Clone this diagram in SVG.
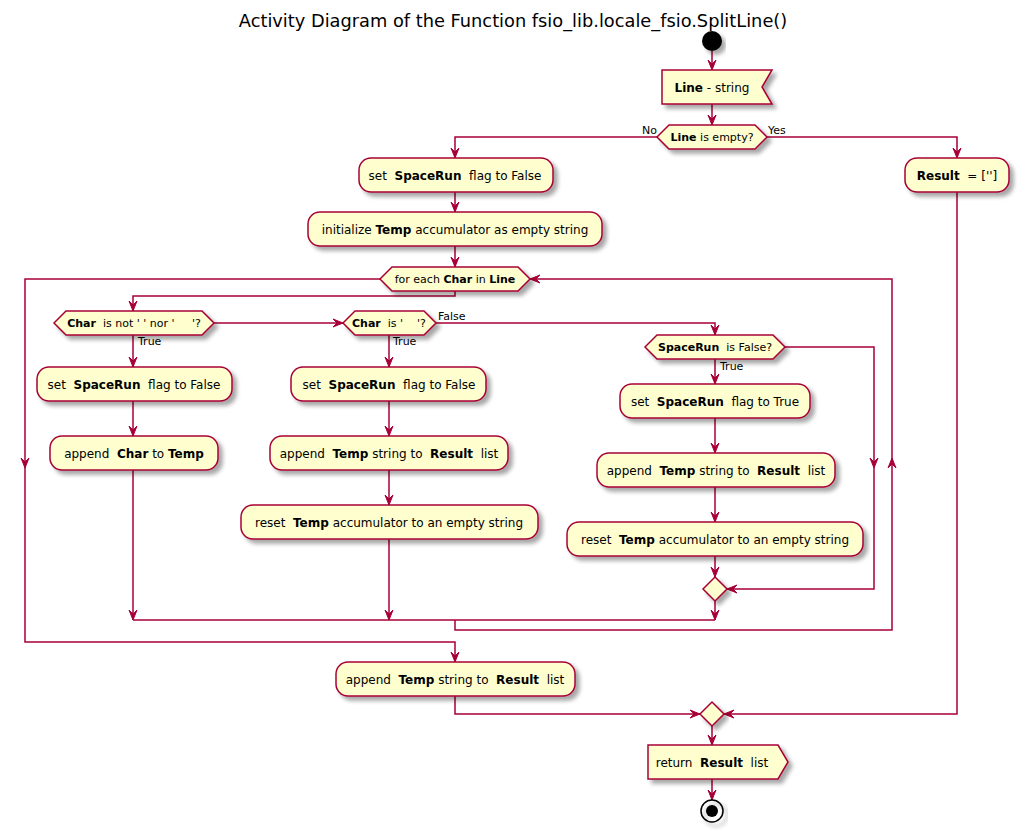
<svg xmlns="http://www.w3.org/2000/svg" xmlns:xlink="http://www.w3.org/1999/xlink" width="1018" height="830" viewBox="0 0 1018 830">
<defs>
<filter id="sh" x="-10%" y="-20%" width="130%" height="160%">
<feGaussianBlur in="SourceAlpha" stdDeviation="2"/>
<feOffset dx="4" dy="4" result="b"/>
<feComponentTransfer><feFuncA type="linear" slope="0.35"/></feComponentTransfer>
<feMerge><feMergeNode/><feMergeNode in="SourceGraphic"/></feMerge>
</filter>
<path id="ah" d="M0,0 L-4,-10 L0,-6 L4,-10 Z" fill="#A80036" stroke="#A80036" stroke-width="1"/>
</defs>
<style>
.n{fill:#FEFECE;stroke:#A80036;stroke-width:1.5;filter:url(#sh)}
.c{fill:none;stroke:#A80036;stroke-width:1.5}
text{font-family:"DejaVu Sans","Noto Sans",sans-serif;fill:#000}
.t{font-size:12px;text-anchor:middle}
.d{font-size:11px;text-anchor:middle}
.l{font-size:11px}
.b{font-weight:bold}
</style>
<rect width="1018" height="830" fill="#FFFFFF"/>
<text x="513" y="27" style="font-size:17.8px;text-anchor:middle">Activity Diagram of the Function fsio_lib.locale_fsio.SplitLine()</text>

<g id="connectors">
<path class="c" d="M712,51 V70"/><use xlink:href="#ah" transform="translate(712,70)"/>
<path class="c" d="M712,104 V125"/><use xlink:href="#ah" transform="translate(712,125)"/>
<path class="c" d="M657,137 H455 V158"/><use xlink:href="#ah" transform="translate(455,158)"/>
<path class="c" d="M767,137 H957 V158"/><use xlink:href="#ah" transform="translate(957,158)"/>
<path class="c" d="M455,192 V212"/><use xlink:href="#ah" transform="translate(455,212)"/>
<path class="c" d="M455,246 V267"/><use xlink:href="#ah" transform="translate(455,267)"/>
<path class="c" d="M455,291 V296 H133 V311"/><use xlink:href="#ah" transform="translate(133,311)"/>
<path class="c" d="M214,323 H343"/><use xlink:href="#ah" transform="translate(343,323) rotate(-90)"/>
<path class="c" d="M133,335 V367"/><use xlink:href="#ah" transform="translate(133,367)"/>
<path class="c" d="M133,401 V436"/><use xlink:href="#ah" transform="translate(133,436)"/>
<path class="c" d="M133,470 V620"/><use xlink:href="#ah" transform="translate(133,620)"/>
<path class="c" d="M389,335 V367"/><use xlink:href="#ah" transform="translate(389,367)"/>
<path class="c" d="M389,401 V436"/><use xlink:href="#ah" transform="translate(389,436)"/>
<path class="c" d="M389,470 V505"/><use xlink:href="#ah" transform="translate(389,505)"/>
<path class="c" d="M389,539 V620"/><use xlink:href="#ah" transform="translate(389,620)"/>
<path class="c" d="M436,323 H715 V335"/><use xlink:href="#ah" transform="translate(715,335)"/>
<path class="c" d="M715,359 V384"/><use xlink:href="#ah" transform="translate(715,384)"/>
<path class="c" d="M715,418 V453"/><use xlink:href="#ah" transform="translate(715,453)"/>
<path class="c" d="M715,487 V522"/><use xlink:href="#ah" transform="translate(715,522)"/>
<path class="c" d="M715,556 V577"/><use xlink:href="#ah" transform="translate(715,577)"/>
<path class="c" d="M785,347 H874 V589 H727"/><use xlink:href="#ah" transform="translate(874,468)"/><use xlink:href="#ah" transform="translate(727,589) rotate(90)"/>
<path class="c" d="M715,601 V620"/><use xlink:href="#ah" transform="translate(715,620)"/>
<path class="c" d="M133,620 H715"/>
<path class="c" d="M455,620 V630 H892 V279 H530"/><use xlink:href="#ah" transform="translate(892,458) rotate(180)"/><use xlink:href="#ah" transform="translate(530,279) rotate(90)"/>
<path class="c" d="M380,279 H25 V642 H455 V662"/><use xlink:href="#ah" transform="translate(25,468)"/><use xlink:href="#ah" transform="translate(455,662)"/>
<path class="c" d="M455,696 V714 H700"/><use xlink:href="#ah" transform="translate(700,714) rotate(-90)"/>
<path class="c" d="M957,192 V714 H724"/><use xlink:href="#ah" transform="translate(724,714) rotate(90)"/>
<path class="c" d="M712,726 V745"/><use xlink:href="#ah" transform="translate(712,745)"/>
<path class="c" d="M712,779 V800"/><use xlink:href="#ah" transform="translate(712,800)"/>
</g>
<g id="labels">
<text class="l" x="642" y="134">No</text>
<text class="l" x="768" y="134">Yes</text>
<text class="l" x="138" y="345">True</text>
<text class="l" x="393" y="345">True</text>
<text class="l" x="438" y="320">False</text>
<text class="l" x="720" y="370">True</text>
</g>

<g id="start"><circle cx="712" cy="41" r="10" fill="#000" style="filter:url(#sh)"/></g>
<g id="input"><polygon class="n" points="662,70 772,70 762,87 772,104 662,104"/><text class="t" x="712" y="92" xml:space="preserve"><tspan class="b">Line</tspan> - string</text></g>
<g id="isEmpty"><polygon class="n" points="657,137 669,125 755,125 767,137 755,149 669,149"/><text class="d" x="712" y="141" xml:space="preserve"><tspan class="b">Line</tspan> is empty?</text></g>
<g id="setFalse0"><rect class="n" x="359" y="158" width="194" height="34" rx="12"/><text class="t" x="455" y="180" xml:space="preserve">set  <tspan class="b">SpaceRun</tspan>  flag to False</text></g>
<g id="resultEmpty"><rect class="n" x="905" y="158" width="104" height="34" rx="12"/><text class="t" x="957" y="180" xml:space="preserve"><tspan class="b">Result</tspan>  = ['']</text></g>
<g id="initTemp"><rect class="n" x="308" y="212" width="294" height="34" rx="12"/><text class="t" x="455" y="234" xml:space="preserve">initialize <tspan class="b">Temp</tspan> accumulator as empty string</text></g>
<g id="loop"><polygon class="n" points="380,279 392,267 518,267 530,279 518,291 392,291"/><text class="d" x="455" y="283" xml:space="preserve">for each <tspan class="b">Char</tspan> in <tspan class="b">Line</tspan></text></g>
<g id="notSpace"><polygon class="n" points="54,323 66,311 202,311 214,323 202,335 66,335"/><text class="d" x="134" y="327" xml:space="preserve"><tspan class="b">Char</tspan>  is not ' ' nor '     '?</text></g>
<g id="isSpace"><polygon class="n" points="343,323 355,311 424,311 436,323 424,335 355,335"/><text class="d" x="389" y="327" xml:space="preserve"><tspan class="b">Char</tspan>  is '    '?</text></g>
<g id="setFalse1"><rect class="n" x="37" y="367" width="195" height="34" rx="12"/><text class="t" x="134" y="389" xml:space="preserve">set  <tspan class="b">SpaceRun</tspan>  flag to False</text></g>
<g id="appendChar"><rect class="n" x="50" y="436" width="168" height="34" rx="12"/><text class="t" x="134" y="458" xml:space="preserve">append  <tspan class="b">Char</tspan> to <tspan class="b">Temp</tspan></text></g>
<g id="setFalse2"><rect class="n" x="291" y="367" width="195" height="34" rx="12"/><text class="t" x="389" y="389" xml:space="preserve">set  <tspan class="b">SpaceRun</tspan>  flag to False</text></g>
<g id="appendTemp1"><rect class="n" x="270" y="436" width="238" height="34" rx="12"/><text class="t" x="389" y="458" xml:space="preserve">append  <tspan class="b">Temp</tspan> string to  <tspan class="b">Result</tspan>  list</text></g>
<g id="resetTemp1"><rect class="n" x="241" y="505" width="297" height="34" rx="12"/><text class="t" x="389" y="527" xml:space="preserve">reset  <tspan class="b">Temp</tspan> accumulator to an empty string</text></g>
<g id="spaceRunFalse"><polygon class="n" points="645,347 657,335 773,335 785,347 773,359 657,359"/><text class="d" x="715" y="351" xml:space="preserve"><tspan class="b">SpaceRun</tspan>  is False?</text></g>
<g id="setTrue"><rect class="n" x="620" y="384" width="190" height="34" rx="12"/><text class="t" x="715" y="406" xml:space="preserve">set  <tspan class="b">SpaceRun</tspan>  flag to True</text></g>
<g id="appendTemp2"><rect class="n" x="597" y="453" width="238" height="34" rx="12"/><text class="t" x="716" y="475" xml:space="preserve">append  <tspan class="b">Temp</tspan> string to  <tspan class="b">Result</tspan>  list</text></g>
<g id="resetTemp2"><rect class="n" x="567" y="522" width="296" height="34" rx="12"/><text class="t" x="715" y="544" xml:space="preserve">reset  <tspan class="b">Temp</tspan> accumulator to an empty string</text></g>
<g id="merge1"><polygon class="n" points="715,577 727,589 715,601 703,589"/></g>
<g id="appendTemp3"><rect class="n" x="336" y="662" width="239" height="34" rx="12"/><text class="t" x="455" y="684" xml:space="preserve">append  <tspan class="b">Temp</tspan> string to  <tspan class="b">Result</tspan>  list</text></g>
<g id="merge2"><polygon class="n" points="712,702 724,714 712,726 700,714"/></g>
<g id="return"><polygon class="n" points="648,745 778,745 788,762 778,779 648,779"/><text class="t" x="712" y="767" xml:space="preserve">return  <tspan class="b">Result</tspan>  list</text></g>
<g id="end"><circle cx="712" cy="811" r="11" fill="none" stroke="#000" stroke-width="1.5" style="filter:url(#sh)"/><circle cx="712" cy="811" r="6" fill="#000"/></g>
</svg>
